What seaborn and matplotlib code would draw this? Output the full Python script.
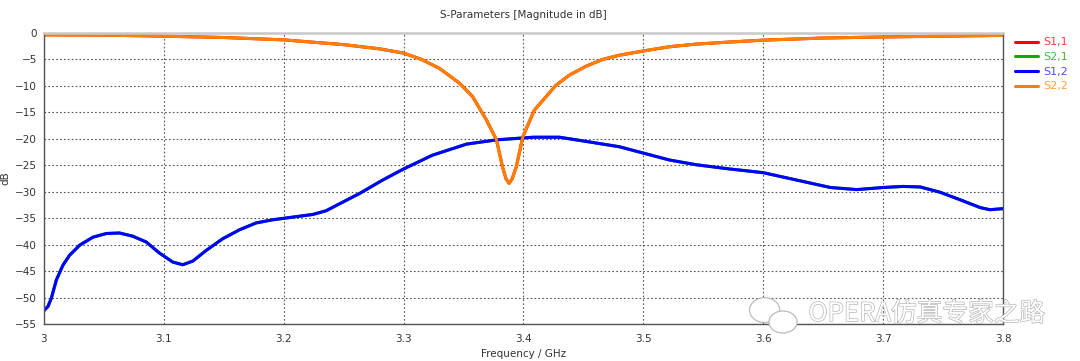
"""S-Parameters [Magnitude in dB] - filtro 3.0-3.8 GHz."""

import matplotlib

matplotlib.use("Agg")
import matplotlib.pyplot as plt
import matplotlib.patheffects as pe
from matplotlib.patches import Ellipse
import pandas as pd
import seaborn as sns

# S2,2 (= S1,1, desenhada por cima)
freq_s22 = [3.0, 3.05, 3.1, 3.15, 3.2, 3.25, 3.28, 3.3, 3.315, 3.33,
            3.3467, 3.3575, 3.369, 3.3775, 3.3825, 3.3855, 3.388, 3.3905,
            3.394, 3.3995, 3.409, 3.4186, 3.427, 3.438, 3.452, 3.466, 3.48,
            3.5, 3.5217, 3.544, 3.569, 3.6, 3.65, 3.7, 3.75, 3.8]
db_s22 = [-0.35, -0.4, -0.6, -0.85, -1.3, -2.2, -3.0, -3.8, -5.0, -6.7,
          -9.5, -12.0, -16.4, -20.2, -25.3, -27.6, -28.4, -27.6,
          -25.3, -19.6, -14.6, -12.1, -9.9, -8.0, -6.3, -5.0, -4.2,
          -3.4, -2.6, -2.1, -1.75, -1.35, -0.95, -0.75, -0.6, -0.45]

# S1,2 (= S2,1)
freq_s12 = [3.0, 3.0006, 3.0033, 3.0062, 3.0103, 3.0158, 3.0214, 3.0298,
            3.0408, 3.052, 3.063, 3.074, 3.0853, 3.0964, 3.1075, 3.1158,
            3.1242, 3.1353, 3.149, 3.163, 3.177, 3.1908, 3.2075, 3.2242,
            3.2353, 3.2464, 3.2635, 3.2825, 3.3, 3.324, 3.3525, 3.3775,
            3.408, 3.43, 3.4525, 3.48, 3.5, 3.5217, 3.544, 3.572, 3.6,
            3.628, 3.656, 3.678, 3.7, 3.7167, 3.731, 3.7475, 3.764, 3.781,
            3.789, 3.8]
db_s12 = [-52.5, -52.3, -51.7, -50.1, -46.7, -43.9, -42.0, -40.1,
          -38.6, -37.9, -37.8, -38.4, -39.5, -41.6, -43.3, -43.8,
          -43.1, -41.1, -38.9, -37.2, -35.9, -35.3, -34.8, -34.3,
          -33.6, -32.3, -30.3, -27.8, -25.7, -23.1, -21.0, -20.2,
          -19.7, -19.7, -20.5, -21.5, -22.7, -24.0, -24.9, -25.7, -26.4,
          -27.8, -29.2, -29.6, -29.2, -29.0, -29.1, -30.1, -31.5, -33.0,
          -33.4, -33.2]

x_ticks = [3.0, 3.1, 3.2, 3.3, 3.4, 3.5, 3.6, 3.7, 3.8]
x_labels = ["3", "3.1", "3.2", "3.3", "3.4", "3.5", "3.6", "3.7", "3.8"]
y_ticks = [0, -5, -10, -15, -20, -25, -30, -35, -40, -45, -50, -55]

series = ["S1,1", "S2,1", "S1,2", "S2,2"]
line_colors = ["#ff0000", "#00b000", "#0000ff", "#ff8000"]
text_colors = ["#ff3c3c", "#3cc03c", "#5050ff", "#ffa040"]

df = pd.concat([
    pd.DataFrame({"f": freq_s22, "db": db_s22, "S": "S1,1"}),
    pd.DataFrame({"f": freq_s12, "db": db_s12, "S": "S2,1"}),
    pd.DataFrame({"f": freq_s12, "db": db_s12, "S": "S1,2"}),
    pd.DataFrame({"f": freq_s22, "db": db_s22, "S": "S2,2"}),
])

sns.set_style("white")
plt.rcParams["font.family"] = ["DejaVu Sans"]

fig, ax = plt.subplots(figsize=(10.8, 3.61), dpi=100)
fig.subplots_adjust(left=0.0407, right=0.9287, top=0.9086, bottom=0.1025)

sns.lineplot(data=df, x="f", y="db", hue="S", hue_order=series,
             palette=dict(zip(series, line_colors)), linewidth=2.2,
             estimator=None, sort=False, ax=ax)
for ln in ax.get_lines():
    ln.set_solid_joinstyle("round")

ax.set_xlim(3.0, 3.8)
ax.set_ylim(-55, 0)
ax.set_xticks(x_ticks)
ax.set_xticklabels(x_labels)
ax.set_yticks(y_ticks)
ax.tick_params(labelsize=7.5, colors="#333333", length=3, width=0.8,
               direction="out", pad=2)
ax.tick_params(axis="x", pad=4)
ax.grid(True, color="#555555", linestyle=(0, (1.5, 2)), linewidth=0.8)

for side in ["left", "bottom", "right"]:
    ax.spines[side].set_color("#555555")
    ax.spines[side].set_linewidth(1.0)
ax.spines["top"].set_color("#c8c8c8")
ax.spines["top"].set_linewidth(1.8)

ax.set_title("S-Parameters [Magnitude in dB]", fontsize=7.5,
             color="#333333", pad=11)
ax.set_xlabel("Frequency / GHz", fontsize=7.5, color="#333333", labelpad=4)
ax.set_ylabel("dB", fontsize=7.5, color="#333333", labelpad=3)

leg = ax.legend(loc="upper left", bbox_to_anchor=(1.008, 1.0),
                frameon=False, fontsize=8, handlelength=2.1,
                handletextpad=0.4, labelspacing=0.42, borderaxespad=0)
for txt, c in zip(leg.get_texts(), text_colors):
    txt.set_color(c)

# marca d'água
wm = fig.text(0.968, 0.13, "OPERA仿真专家之路", ha="right", va="center",
              fontsize=18.5, color="white",
              family=["Noto Sans CJK SC", "DejaVu Sans"], zorder=10)
wm.set_path_effects([pe.withStroke(linewidth=0.9, foreground="#b0b0b0")])
for (cx, cy, w, h) in [(0.708, 0.141, 0.028, 0.069),
                       (0.725, 0.108, 0.026, 0.061)]:
    fig.add_artist(Ellipse((cx, cy), w, h, transform=fig.transFigure,
                           facecolor="white", edgecolor="#bbbbbb",
                           linewidth=0.9, zorder=9))

fig.savefig("out.png", dpi=100)
